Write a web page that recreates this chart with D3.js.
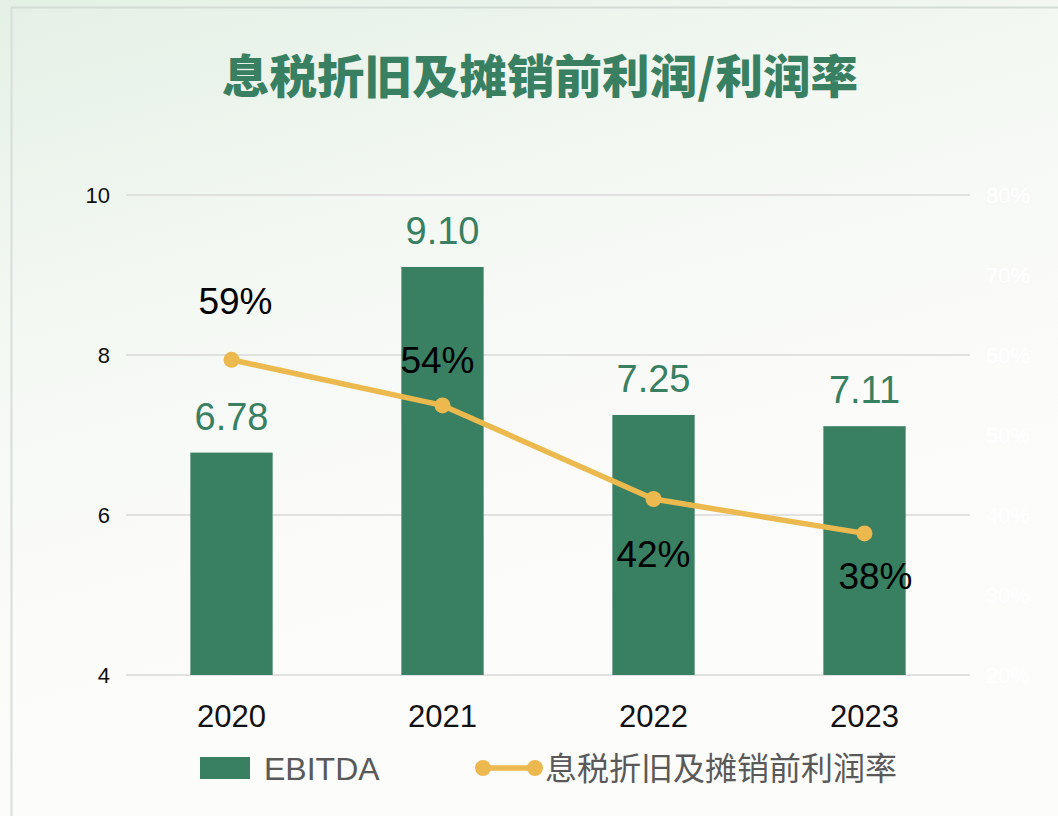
<!DOCTYPE html>
<html><head><meta charset="utf-8">
<script src="https://cdn.jsdelivr.net/npm/d3@7/dist/d3.min.js"></script>
<style>
html,body{margin:0;padding:0;}
body{width:1058px;height:816px;overflow:hidden;background:#fbfcfb;}
svg{display:block;}
</style></head>
<body>
<svg id="chart" width="1058" height="816"></svg>
<script>
const title = "息税折旧及摊销前利润/利润率";
const years = ["2020", "2021", "2022", "2023"];
const ebitda = [6.78, 9.10, 7.25, 7.11];
const margin = [0.594, 0.537, 0.42, 0.377];
const leftTicks = [4, 6, 8, 10];
const rightTicks = [0.2, 0.3, 0.4, 0.5, 0.6, 0.7, 0.8];
const seriesNames = ["EBITDA", "息税折旧及摊销前利润率"];

const svg = d3.select("#chart");
const W = 1058, H = 816;
const green = "#397f62", gold = "#ecb94f";
const cjk = "'Noto Sans CJK SC', 'Noto Sans', sans-serif";
const latin = "Arial, 'Liberation Sans', sans-serif";

// background
const defs = svg.append("defs");
const lg = defs.append("linearGradient").attr("id", "bg").attr("x1", 0).attr("y1", 0).attr("x2", 0.35).attr("y2", 1);
lg.append("stop").attr("offset", "0%").attr("stop-color", "#e4f0e6");
lg.append("stop").attr("offset", "35%").attr("stop-color", "#f3f8f2");
lg.append("stop").attr("offset", "70%").attr("stop-color", "#fbfbfa");
lg.append("stop").attr("offset", "100%").attr("stop-color", "#fcfcfb");
svg.append("rect").attr("width", W).attr("height", H).attr("fill", "url(#bg)");
// frame lines
svg.append("line").attr("x1", 11).attr("x2", W).attr("y1", 7.5).attr("y2", 7.5).attr("stroke", "#d3dcd5").attr("stroke-width", 2);
svg.append("line").attr("x1", 11.5).attr("x2", 11.5).attr("y1", 7).attr("y2", H).attr("stroke", "#d8ddd9").attr("stroke-width", 2);

// title
svg.append("text").attr("x", 540).attr("y", 93).attr("text-anchor", "middle")
  .attr("font-family", cjk).attr("font-weight", 900).attr("font-size", 46)
  .attr("fill", green).attr("textLength", 636).attr("lengthAdjust", "spacingAndGlyphs")
  .text(title);

const x0 = 126, x1 = 970, yTop = 195, yBot = 675;
const x = d3.scaleBand().domain(years).range([x0, x1]).paddingInner(0.61).paddingOuter(0.305);
const y = d3.scaleLinear().domain([4, 10]).range([yBot, yTop]);
const y2 = d3.scaleLinear().domain([0.2, 0.8]).range([yBot, yTop]);

// gridlines
svg.append("g").selectAll("line").data(leftTicks).join("line")
  .attr("x1", x0).attr("x2", x1).attr("y1", d => y(d)).attr("y2", d => y(d))
  .attr("stroke", "#d9d9d9").attr("stroke-width", 1.3);

// left axis
const ya = svg.append("g").attr("transform", `translate(${x0},0)`)
  .call(d3.axisLeft(y).tickValues(leftTicks).tickSize(0).tickPadding(16).tickFormat(d3.format("d")));
ya.select(".domain").remove();
ya.selectAll("text").attr("font-family", latin).attr("font-size", 22).attr("fill", "#111");

// right axis (white, faint)
const yr = svg.append("g").attr("transform", `translate(${x1},0)`)
  .call(d3.axisRight(y2).tickValues(rightTicks).tickSize(0).tickPadding(16).tickFormat(d3.format(".0%")));
yr.select(".domain").remove();
yr.selectAll("text").attr("font-family", latin).attr("font-size", 22).attr("fill", "#ffffff");

// x axis
const xa = svg.append("g").attr("transform", `translate(0,${yBot})`)
  .call(d3.axisBottom(x).tickSize(0).tickPadding(30));
xa.select(".domain").remove();
xa.selectAll("text").attr("font-family", latin).attr("font-size", 31).attr("fill", "#111");

// bars
svg.append("g").selectAll("rect").data(ebitda).join("rect")
  .attr("x", (d, i) => x(years[i])).attr("width", x.bandwidth())
  .attr("y", d => y(d)).attr("height", d => yBot - y(d))
  .attr("fill", green);

// bar labels
svg.append("g").selectAll("text").data(ebitda).join("text")
  .attr("x", (d, i) => x(years[i]) + x.bandwidth() / 2)
  .attr("y", d => y(d) - 23)
  .attr("text-anchor", "middle").attr("font-family", latin).attr("font-size", 38)
  .attr("fill", green).text(d => d3.format(".2f")(d));

// line
const cx = (i) => x(years[i]) + x.bandwidth() / 2;
svg.append("path").datum(margin)
  .attr("d", d3.line().x((d, i) => cx(i)).y(d => y2(d)))
  .attr("fill", "none").attr("stroke", gold).attr("stroke-width", 5.5).attr("stroke-linejoin", "round");
svg.append("g").selectAll("circle").data(margin).join("circle")
  .attr("cx", (d, i) => cx(i)).attr("cy", d => y2(d)).attr("r", 8).attr("fill", gold);

// line labels
const offY = [-46, -32, 68, 56];
const offX = [4, -5, 0, 11];
svg.append("g").selectAll("text").data(margin).join("text")
  .attr("x", (d, i) => cx(i) + offX[i])
  .attr("y", (d, i) => y2(d) + offY[i])
  .attr("text-anchor", "middle").attr("font-family", latin).attr("font-size", 37)
  .attr("fill", "#000").text(d => d3.format(".0%")(d));

// legend
const lgY = 768;
svg.append("rect").attr("x", 200).attr("y", lgY - 11).attr("width", 50).attr("height", 22).attr("fill", green);
svg.append("text").attr("x", 264).attr("y", lgY + 12).attr("font-family", latin).attr("font-size", 32)
  .attr("fill", "#595959").text(seriesNames[0]);
svg.append("line").attr("x1", 483).attr("x2", 535).attr("y1", lgY).attr("y2", lgY).attr("stroke", gold).attr("stroke-width", 5.5);
svg.append("circle").attr("cx", 483).attr("cy", lgY).attr("r", 8).attr("fill", gold);
svg.append("circle").attr("cx", 535).attr("cy", lgY).attr("r", 8).attr("fill", gold);
svg.append("text").attr("x", 545).attr("y", lgY + 12).attr("font-family", cjk).attr("font-size", 32)
  .attr("fill", "#595959").text(seriesNames[1]);
</script>
</body></html>
